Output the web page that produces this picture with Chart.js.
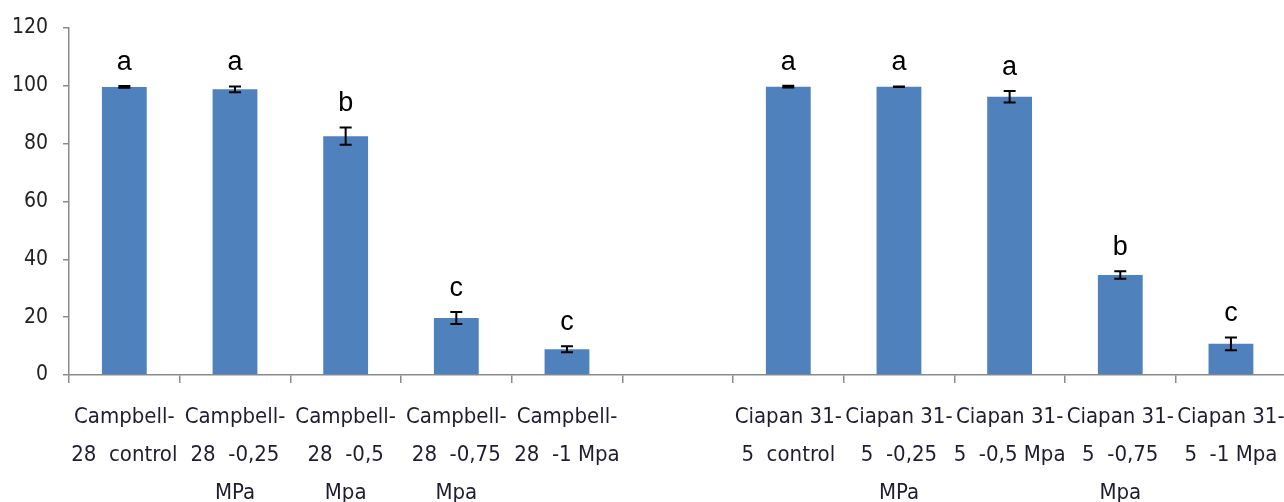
<!DOCTYPE html>
<html><head><meta charset="utf-8">
<script src="https://cdn.jsdelivr.net/npm/chart.js@4"></script>
<style>html,body{margin:0;padding:0;background:#fff;overflow:hidden;}
#wrap{position:relative;width:1300px;height:502px;}</style>
</head><body><div id="wrap"><canvas id="c"></canvas></div>
<script>
const categories = ["Campbell-28 control","Campbell-28 -0,25 MPa","Campbell-28 -0,5 Mpa","Campbell-28 -0,75 Mpa","Campbell-28 -1 Mpa","",
  "Ciapan 31-5 control","Ciapan 31-5 -0,25 MPa","Ciapan 31-5 -0,5 Mpa","Ciapan 31-5 -0,75 Mpa","Ciapan 31-5 -1 Mpa"];
const tickLabels = [
  ["Campbell-","28  control"],
  ["Campbell-","28  -0,25","MPa"],
  ["Campbell-","28  -0,5","Mpa"],
  ["Campbell-","28  -0,75","Mpa"],
  ["Campbell-","28  -1 Mpa"],
  "",
  ["Ciapan 31-","5  control"],
  ["Ciapan 31-","5  -0,25","MPa"],
  ["Ciapan 31-","5  -0,5 Mpa"],
  ["Ciapan 31-","5  -0,75","Mpa"],
  ["Ciapan 31-","5  -1 Mpa"]
];
const values = [99.6, 98.8, 82.6, 19.7, 8.9, null, 99.7, 99.7, 96.2, 34.6, 10.8];
const errors = [0.3, 1.0, 3.0, 2.1, 1.0, null, 0.3, 0.1, 2.0, 1.3, 2.2];
const letters = ["a","a","b","c","c","","a","a","a","b","c"];
const yTicks = [0, 20, 40, 60, 80, 100, 120];

const FONT = '"DejaVu Sans Condensed", "Liberation Sans Narrow", "DejaVu Sans", sans-serif';

const errPlugin = {
  id: 'errPlugin',
  afterDatasetsDraw(chart) {
    const ctx = chart.ctx, y = chart.scales.y;
    const meta = chart.getDatasetMeta(0);
    ctx.save();
    meta.data.forEach((bar, i) => {
      const v = values[i], e = errors[i];
      if (v == null) return;
      const x = bar.x;
      const yt = y.getPixelForValue(v + e), yb = y.getPixelForValue(v - e);
      ctx.strokeStyle = '#000'; ctx.lineWidth = 2;
      ctx.beginPath();
      ctx.moveTo(x, yt); ctx.lineTo(x, yb);
      ctx.moveTo(x - 6, yt); ctx.lineTo(x + 6, yt);
      ctx.moveTo(x - 6, yb); ctx.lineTo(x + 6, yb);
      ctx.stroke();
      ctx.fillStyle = '#000';
      ctx.font = '27px "Liberation Sans", Arial, sans-serif';
      ctx.textAlign = 'center'; ctx.textBaseline = 'alphabetic';
      ctx.fillText(letters[i], x, yt - 16);
    });
    ctx.restore();
  }
};

new Chart(document.getElementById('c'), {
  type: 'bar',
  data: {
    labels: tickLabels,
    datasets: [{ label: 'values', data: values, backgroundColor: '#4F81BD',
      barPercentage: 0.405, categoryPercentage: 1.0 }]
  },
  options: {
    responsive: true, maintainAspectRatio: false, animation: false,
    layout: { padding: { top: 28, right: 9, left: 0, bottom: 0 } },
    plugins: { legend: { display: false }, tooltip: { enabled: false } },
    scales: {
      x: {
        grid: { display: true, drawOnChartArea: false, drawTicks: true, tickLength: 8, color: '#8a8a8a', lineWidth: 1.5, offset: true },
        border: { display: true, color: '#8a8a8a', width: 1.5 },
        ticks: { autoSkip: false, maxRotation: 0, minRotation: 0, padding: 15, color: '#1e1e30',
          font: { family: FONT, size: 22, lineHeight: 1.74 } },
        afterFit: s => { s.height = 127; }
      },
      y: {
        min: 0, max: 120,
        afterBuildTicks: s => { s.ticks = yTicks.map(v => ({ value: v })); },
        grid: { display: true, drawOnChartArea: false, drawTicks: true, tickLength: 6, color: '#8a8a8a', lineWidth: 1.5 },
        border: { display: true, color: '#8a8a8a', width: 1.5 },
        ticks: { padding: 15, color: '#222', font: { family: FONT, size: 21 } },
        afterFit: s => { s.width = 69; }
      }
    }
  },
  plugins: [errPlugin]
});
</script></body></html>
